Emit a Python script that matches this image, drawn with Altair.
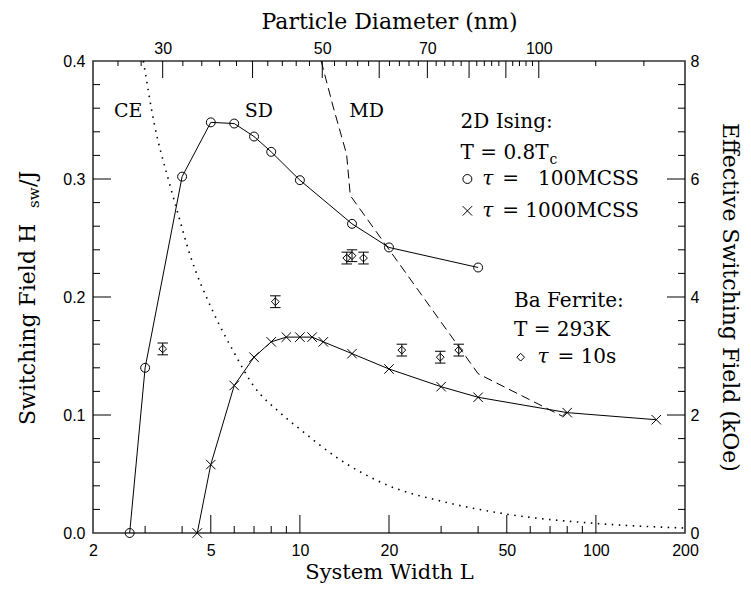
import altair as alt
import pandas as pd

# ---------------- data ----------------
circ_L = [2.66, 3, 4, 5, 6, 7, 8, 10, 15, 20, 40]
circ_H = [0.0, 0.140, 0.302, 0.348, 0.347, 0.336, 0.323, 0.299, 0.262, 0.242, 0.225]

cross_L = [4.5, 5, 6, 7, 8, 9, 10, 11, 12, 15, 20, 30, 40, 80, 160]
cross_H = [0.0, 0.058, 0.125, 0.149, 0.162, 0.166, 0.166, 0.166, 0.162, 0.152,
           0.139, 0.124, 0.115, 0.102, 0.096]

fer_L = [3.44, 8.26, 14.4, 15.0, 16.4, 22.1, 29.8, 34.4]
fer_H = [0.156, 0.196, 0.233, 0.235, 0.233, 0.155, 0.149, 0.155]
fer_err = [0.005, 0.005, 0.005, 0.005, 0.005, 0.005, 0.005, 0.005]

md_L = [11.8, 12.96, 14.38, 14.8, 40, 77, 80]
md_H = [0.4, 0.361, 0.321, 0.286, 0.135, 0.099, 0.103]

ce_L = [2.96, 3.22, 3.6, 3.84, 4.25, 5.1, 5.96, 6.96, 8.56, 10, 13.5, 20, 30, 50, 100, 200]
ce_H = [0.4, 0.347, 0.299, 0.274, 0.236, 0.187, 0.154, 0.125, 0.102, 0.088, 0.063,
        0.040, 0.027, 0.016, 0.0081, 0.0042]

x_labels = [2, 5, 10, 20, 50, 100, 200]
x_major = [5, 10, 20, 50, 100]
x_minor = [3, 4, 6, 7, 8, 9, 30, 40, 60, 70, 80, 90]
y_labels = [0.0, 0.1, 0.2, 0.3, 0.4]
y_major = [0.1, 0.2, 0.3]
y_minor = [0.02, 0.04, 0.06, 0.08, 0.12, 0.14, 0.16, 0.18, 0.22, 0.24, 0.26, 0.28,
           0.32, 0.34, 0.36, 0.38]
k_labels = [0, 2, 4, 6, 8]
d_labels = [30, 50, 70, 100]
d_major = [30, 40, 50, 60, 70, 80, 90, 100]
d_minor = [26, 28, 32, 34, 36, 38, 42, 44, 46, 48, 52, 54, 56, 58, 62, 64, 66, 68,
           72, 74, 76, 78, 82, 84, 86, 88, 92, 94, 96, 98, 120, 140]


def d_to_L(d):
    # top-axis transform: particle diameter (nm) -> system width L
    return 11.9 * (d / 50.0) ** 2.43


W, H = 592, 472
SERIF = "DejaVu Serif"
SANS = "Liberation Sans"
TICK_MAJ, TICK_MIN = 18, 7
TOP_MAJ, TOP_MIN = 17, 5
FRAME = "#333333"
LBL = 16
TTL = 22
ANN = 20

xscale = alt.Scale(type="log", domain=[2, 200], nice=False)
yscale = alt.Scale(domain=[0, 0.4], nice=False, zero=False)

xaxis = alt.Axis(values=x_labels, format="d", title="System Width L", grid=False,
                 domain=False, ticks=False, labelFont=SANS, labelFontSize=LBL,
                 labelColor="black", labelPadding=9, titleFont=SERIF,
                 titleFontSize=21, titleFontWeight="normal", titleColor="black",
                 titlePadding=3, labelFlush=False)
yaxis = alt.Axis(values=y_labels, format=".1f", title=None, grid=False,
                 domain=False, ticks=False, labelFont=SANS, labelFontSize=LBL,
                 labelColor="black", labelPadding=8)


def X(field="L"):
    return alt.X(f"{field}:Q", scale=xscale, axis=xaxis)


def Y(field="H"):
    return alt.Y(f"{field}:Q", scale=yscale, axis=yaxis)


circ = pd.DataFrame({"L": circ_L, "H": circ_H})
cross = pd.DataFrame({"L": cross_L, "H": cross_H})
fer = pd.DataFrame({"L": fer_L, "H": fer_H,
                    "lo": [h - e for h, e in zip(fer_H, fer_err)],
                    "hi": [h + e for h, e in zip(fer_H, fer_err)]})
md = pd.DataFrame({"L": md_L, "H": md_H, "o": range(len(md_L))})
ce = pd.DataFrame({"L": ce_L, "H": ce_H, "o": range(len(ce_L))})

XSHAPE = "M-1,-1L1,1M-1,1L1,-1"
CAP = "M-1,0L1,0"


def pts(df, shape, size, yfield="H"):
    return (alt.Chart(df).mark_point(shape=shape, size=size, filled=False, color="black",
                                     strokeWidth=1, opacity=1)
            .encode(x=X(), y=Y(yfield)))


layers = []
layers.append(alt.Chart(circ).mark_line(color="black", strokeWidth=1).encode(x=X(), y=Y()))
layers.append(pts(circ, "circle", 80))
layers.append(alt.Chart(cross).mark_line(color="black", strokeWidth=1).encode(x=X(), y=Y()))
layers.append(pts(cross, XSHAPE, 90))
layers.append(alt.Chart(md).mark_line(color="black", strokeWidth=1, strokeDash=[9, 5])
              .encode(x=X(), y=Y(), order="o:Q"))
layers.append(alt.Chart(ce).mark_line(color="black", strokeWidth=1.6, strokeDash=[1.5, 5.5],
                                      interpolate="monotone", clip=True)
              .encode(x=X(), y=Y(), order="o:Q"))
# ferrite error bars
layers.append(alt.Chart(fer).mark_rule(color="black", strokeWidth=1)
              .encode(x=X(), y=Y("lo"), y2="hi:Q"))
layers.append(pts(fer, CAP, 110, "lo"))
layers.append(pts(fer, CAP, 110, "hi"))
layers.append(pts(fer, "diamond", 60))

# inward ticks
bx_maj = pd.DataFrame({"L": x_major})
bx_min = pd.DataFrame({"L": x_minor})
layers.append(alt.Chart(bx_maj).mark_rule(color="black")
              .encode(x=X(), y=alt.value(H), y2=alt.value(H - TICK_MAJ)))
layers.append(alt.Chart(bx_min).mark_rule(color="black")
              .encode(x=X(), y=alt.value(H), y2=alt.value(H - TICK_MIN)))
ty_maj = pd.DataFrame({"H": y_major})
ty_min = pd.DataFrame({"H": y_minor})
for df, ln in ((ty_maj, TICK_MAJ), (ty_min, TICK_MIN)):
    layers.append(alt.Chart(df).mark_rule(color="black")
                  .encode(y=Y(), x=alt.value(0), x2=alt.value(ln)))
    layers.append(alt.Chart(df).mark_rule(color="black")
                  .encode(y=Y(), x=alt.value(W), x2=alt.value(W - ln)))
top_maj = pd.DataFrame({"L": [d_to_L(d) for d in d_major]})
top_min = pd.DataFrame({"L": [d_to_L(d) for d in d_minor]})
layers.append(alt.Chart(top_maj).mark_rule(color="black")
              .encode(x=X(), y=alt.value(0), y2=alt.value(TOP_MAJ)))
layers.append(alt.Chart(top_min).mark_rule(color="black")
              .encode(x=X(), y=alt.value(0), y2=alt.value(TOP_MIN)))

# region labels
regions = pd.DataFrame({"L": [2.63, 7.27, 16.8], "H": [0.358, 0.358, 0.358],
                        "t": ["CE", "SD", "MD"]})
layers.append(alt.Chart(regions).mark_text(font=SERIF, fontSize=19, color="black",
                                           align="center", baseline="middle")
              .encode(x=X(), y=Y(), text="t:N"))

# legend texts
ann = pd.DataFrame({
    "L": [34.9, 34.9, 52.9, 52.9],
    "H": [0.348, 0.322, 0.197, 0.172],
    "t": ["2D Ising:", "T = 0.8T", "Ba Ferrite:", "T = 293K"],
})
layers.append(alt.Chart(ann).mark_text(font=SERIF, fontSize=ANN, color="black",
                                       align="left", baseline="middle")
              .encode(x=X(), y=Y(), text="t:N"))
sub = pd.DataFrame({"L": [34.9], "H": [0.322], "t": ["c"]})
layers.append(alt.Chart(sub).mark_text(font=SERIF, fontSize=14, color="black",
                                       align="left", baseline="middle", dx=89, dy=7)
              .encode(x=X(), y=Y(), text="t:N"))
tau = pd.DataFrame({"L": [41.3, 41.3, 63.5], "H": [0.300, 0.273, 0.149],
                    "t": ["\u03c4", "\u03c4", "\u03c4"],
                    "r": ["=\u00a0\u00a0\u00a0100MCSS", "= 1000MCSS", "= 10s"]})
layers.append(alt.Chart(tau).mark_text(font=SERIF, fontSize=ANN, fontStyle="italic",
                                       color="black", align="left", baseline="middle")
              .encode(x=X(), y=Y(), text="t:N"))
layers.append(alt.Chart(tau).mark_text(font=SERIF, fontSize=ANN, color="black",
                                       align="left", baseline="middle", dx=20)
              .encode(x=X(), y=Y(), text="r:N"))
leg_c = pd.DataFrame({"L": [36.8], "H": [0.300]})
leg_x = pd.DataFrame({"L": [36.8], "H": [0.273]})
leg_d = pd.DataFrame({"L": [55.7], "H": [0.149]})
layers.append(pts(leg_c, "circle", 80))
layers.append(pts(leg_x, XSHAPE, 90))
layers.append(pts(leg_d, "diamond", 60))

# left axis title with subscript
lt = pd.DataFrame({"t": ["Switching Field H"]})
layers.append(alt.Chart(lt).mark_text(font=SERIF, fontSize=TTL, color="black", angle=270,
                                      align="left", baseline="middle")
              .encode(x=alt.value(-65), y=alt.value(364), text="t:N"))
ls = pd.DataFrame({"t": ["sw"]})
layers.append(alt.Chart(ls).mark_text(font=SERIF, fontSize=15, color="black", angle=270,
                                      align="left", baseline="middle")
              .encode(x=alt.value(-59), y=alt.value(147), text="t:N"))
lj = pd.DataFrame({"t": ["/J"]})
layers.append(alt.Chart(lj).mark_text(font=SERIF, fontSize=TTL, color="black", angle=270,
                                      align="left", baseline="middle")
              .encode(x=alt.value(-65), y=alt.value(126), text="t:N"))

main = alt.layer(*layers)

# right axis (kOe)
right_df = pd.DataFrame({"L": [2, 200], "k": [0, 8]})
right = alt.Chart(right_df).mark_point(opacity=0).encode(
    x=alt.X("L:Q", scale=alt.Scale(type="log", domain=[2, 200], nice=False), axis=None),
    y=alt.Y("k:Q", scale=alt.Scale(domain=[0, 8], nice=False),
            axis=alt.Axis(orient="right", values=k_labels, format="d",
                          title="Effective Switching Field (kOe)", grid=False,
                          domain=False, ticks=False, labelFont=SANS, labelFontSize=LBL,
                          labelColor="black", labelPadding=5, titleFont=SERIF,
                          titleFontSize=22, titleFontWeight="normal",
                          titleColor="black", titlePadding=19)),
)

# top axis (particle diameter)
top_df = pd.DataFrame({"L": [d_to_L(d) for d in d_labels], "k": [0, 0, 0, 0]})
top = alt.Chart(top_df).mark_point(opacity=0).encode(
    x=alt.X("L:Q", scale=alt.Scale(type="log", domain=[2, 200], nice=False),
            axis=alt.Axis(orient="top", values=[d_to_L(d) for d in d_labels],
                          labelExpr="datum.value < 5 ? '30' : datum.value < 20 ? '50' : datum.value < 40 ? '70' : '100'",
                          title="Particle Diameter (nm)", grid=False, domain=False,
                          ticks=False, labelFont=SANS, labelFontSize=LBL,
                          labelColor="black", labelPadding=5, titleFont=SERIF,
                          titleFontSize=TTL, titleFontWeight="normal",
                          titleColor="black", titlePadding=7, labelFlush=False)),
    y=alt.Y("k:Q", scale=alt.Scale(domain=[0, 8]), axis=None),
)

chart = alt.layer(main, right, top).resolve_scale(x="independent", y="independent").properties(
    width=W, height=H,
    autosize=alt.AutoSizeParams(type="none"),
    padding={"left": 85, "top": 53, "right": 58, "bottom": 52},
).configure_view(stroke=FRAME, strokeWidth=1.6)

chart.save("out.html", embed_options={"renderer": "svg", "actions": False})
